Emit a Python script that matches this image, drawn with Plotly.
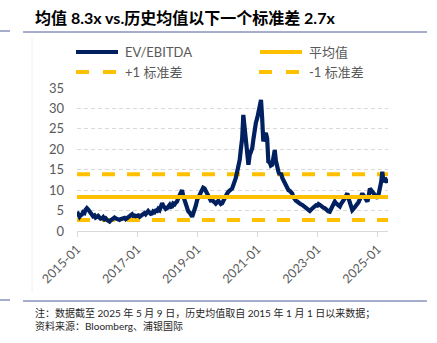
import pandas as pd
import plotly.graph_objects as go

# ---------------- data ----------------
ev_2015 = [4.7, 4.2, 3.5, 3.9, 4.0, 4.6, 4.4, 5.2, 5.6, 5.3, 4.8, 4.3, 3.9, 3.6, 3.8, 3.3, 3.5, 3.7, 3.3, 3.0, 3.1, 3.4, 2.9, 3.1]
ev_2016 = [2.7, 2.5, 2.3, 2.6, 2.9, 3.1, 3.3, 3.1, 3.0, 2.8, 2.7, 2.9, 3.0, 3.3, 3.2, 2.9, 3.1, 3.4, 3.6, 3.9, 4.1, 3.7, 3.8, 3.6]
ev_2017 = [3.6, 3.8, 3.5, 3.7, 4.0, 4.3, 4.4, 4.1, 4.7, 4.9, 4.5, 4.2, 4.3, 4.8, 4.6, 5.0, 4.9, 5.4, 5.1, 6.0, 6.8, 6.2, 5.8, 5.4]
ev_2018 = [5.6, 6.1, 6.4, 5.9, 6.0, 6.7, 6.5, 6.9, 7.2, 8.0, 8.8, 9.5, 10.0, 8.6, 7.6, 6.4, 5.6, 4.8, 4.5, 3.9, 3.5, 4.3, 5.1, 6.2]
ev_2019 = [7.6, 8.3, 8.5, 9.4, 10.0, 10.6, 10.4, 9.8, 9.2, 8.4, 8.0, 7.5, 7.6, 7.1, 7.0, 6.7, 7.2, 7.4, 7.0, 6.6, 6.8, 7.5, 8.0, 8.5]
ev_2020 = [9.2, 9.6, 9.8, 10.2, 10.4, 11.2, 11.9, 13.0, 14.5, 15.8, 17.4, 20.0, 22.7, 28.4, 25.2, 22.0, 19.4, 16.2, 18.6, 19.5, 20.3, 22.5, 25.2, 26.5]
ev_2021 = [27.7, 29.2, 31.3, 32.1, 27.7, 21.9, 23.5, 24.0, 22.7, 17.0, 16.8, 16.0, 16.2, 17.5, 19.8, 17.2, 15.4, 14.5, 13.8, 14.2, 13.0, 12.4, 11.9, 11.2]
ev_2022 = [10.4, 10.0, 9.8, 9.4, 9.2, 8.3, 7.6, 7.4, 7.2, 6.9, 6.8, 6.5, 6.4, 6.2, 6.0, 5.6, 5.4, 5.1, 4.9, 5.2, 5.5, 5.9, 6.0, 6.3]
ev_2023 = [6.2, 6.6, 6.4, 6.1, 6.0, 5.7, 5.6, 5.3, 5.1, 4.8, 4.7, 5.2, 6.0, 6.5, 7.2, 6.8, 6.6, 6.2, 6.0, 6.6, 7.0, 7.5, 8.0, 8.6]
ev_2024 = [9.2, 8.0, 7.0, 5.8, 5.1, 5.4, 5.8, 6.0, 6.4, 7.0, 7.8, 8.6, 9.2, 8.7, 8.2, 7.6, 7.2, 8.5, 10.4, 10.0, 9.6, 9.2, 8.8, 8.3]
ev_2025 = [8.0, 9.0, 10.4, 12.0, 14.5, 11.9, 13.0, 12.2, 11.9, 12.5]

ev_values = ev_2015 + ev_2016 + ev_2017 + ev_2018 + ev_2019 + ev_2020 + ev_2021 + ev_2022 + ev_2023 + ev_2024 + ev_2025
dates = list(pd.date_range("2015-01-01", "2025-05-01", freq="SMS")) + [pd.Timestamp("2025-05-09")]
assert len(dates) == len(ev_values), (len(dates), len(ev_values))

mean_val = 8.3
plus1_std = 13.9
minus1_std = 2.7

tick_dates = ["2015-01-01", "2017-01-01", "2019-01-01", "2021-01-01", "2023-01-01", "2025-01-01"]
tick_labels = ["2015-01", "2017-01", "2019-01", "2021-01", "2023-01", "2025-01"]

legend_names = ["EV/EBITDA", "平均值", "+1 标准差", "-1 标准差"]

title_text = "均值 8.3x vs.历史均值以下一个标准差 2.7x"
note1 = "注：数据截至 2025 年 5 月 9 日，历史均值取自 2015 年 1 月 1 日以来数据；"
note2 = "资料来源：Bloomberg、浦银国际"

# ---------------- styling / layout helpers ----------------
W, H = 437, 343
L, R, T, B = 77, 388, 88, 231   # plot area in pixels
NAVY = "#002060"
GOLD = "#FFC000"
GREY = "#595959"
FONT = "Lato, 'Noto Sans CJK SC', sans-serif"

def px(x):
    return (x - L) / (R - L)

def py(y):
    return (B - y) / (B - T)

fig = go.Figure()
span = [dates[0], dates[-1]]
fig.add_trace(go.Scatter(x=span, y=[minus1_std] * 2, mode="lines", name=legend_names[3],
                         line=dict(color=GOLD, width=4, dash="13px,12px"), showlegend=False))
fig.add_trace(go.Scatter(x=span, y=[plus1_std] * 2, mode="lines", name=legend_names[2],
                         line=dict(color=GOLD, width=4, dash="13px,12px"), showlegend=False))
fig.add_trace(go.Scatter(x=dates, y=ev_values, mode="lines", name=legend_names[0],
                         line=dict(color=NAVY, width=4.2), showlegend=False))
fig.add_trace(go.Scatter(x=span, y=[mean_val] * 2, mode="lines", name=legend_names[1],
                         line=dict(color=GOLD, width=4), showlegend=False))

shapes = []
annotations = []

# manual legend
leg = [
    (76, 118, 52, NAVY, "solid", 123, legend_names[0]),
    (260, 302, 52, GOLD, "solid", 307, legend_names[1]),
    (76, 116, 72, GOLD, "13px,14px", 123, legend_names[2]),
    (259, 299, 72, GOLD, "13px,14px", 307, legend_names[3]),
]
for x0, x1, y, col, dash, tx, name in leg:
    shapes.append(dict(type="line", xref="paper", yref="paper", x0=px(x0), x1=px(x1), y0=py(y), y1=py(y),
                       line=dict(color=col, width=4, dash=dash)))
    annotations.append(dict(xref="paper", yref="paper", x=px(tx), y=py(y), xanchor="left", yanchor="middle",
                            text=name, showarrow=False, font=dict(size=13, color=GREY, family=FONT)))

# separators
for (x0, x1, y) in [(23, 427, 32), (0, 10, 31), (23, 427, 301), (0, 10, 300)]:
    shapes.append(dict(type="line", xref="paper", yref="paper", x0=px(x0), x1=px(x1), y0=py(y), y1=py(y),
                       line=dict(color="#4F5B9A", width=1)))
# faint chart-area border
shapes.append(dict(type="line", xref="paper", yref="paper", x0=px(32), x1=px(32), y0=py(38), y1=py(293),
                   line=dict(color="#F0F0F0", width=1)))

annotations.append(dict(xref="paper", yref="paper", x=px(33), y=py(18), xanchor="left", yanchor="middle",
                        text="<b>" + title_text + "</b>", showarrow=False,
                        font=dict(size=16, color="#000000", family=FONT)))
annotations.append(dict(xref="paper", yref="paper", x=px(33), y=py(313), xanchor="left", yanchor="middle",
                        text=note1, showarrow=False, font=dict(size=10, color="#262626", family=FONT)))
annotations.append(dict(xref="paper", yref="paper", x=px(33), y=py(326), xanchor="left", yanchor="middle",
                        text=note2, showarrow=False, font=dict(size=10, color="#262626", family=FONT)))

fig.update_layout(
    width=W, height=H,
    margin=dict(l=L, r=W - R, t=T, b=H - B, pad=0),
    paper_bgcolor="white", plot_bgcolor="white",
    font=dict(family=FONT, color=GREY),
    shapes=shapes, annotations=annotations,
    showlegend=False,
)
fig.update_xaxes(
    type="date", range=[dates[0], dates[-1]],
    tickvals=tick_dates, ticktext=tick_labels, tickangle=-45,
    tickfont=dict(size=12.5, color=GREY, family=FONT),
    showgrid=False, zeroline=False,
    showline=True, linecolor="#D9D9D9", linewidth=1,
    ticks="outside", ticklen=5, tickcolor="#D9D9D9",
)
fig.update_yaxes(
    range=[0, 35], dtick=5, tick0=0,
    tickfont=dict(size=13, color=GREY, family=FONT),
    showgrid=True, gridcolor="#D9D9D9", gridwidth=1, griddash="4px,3px",
    zeroline=False, showline=False, ticks="", ticklabelstandoff=12,
)

fig.write_html("out.html")
